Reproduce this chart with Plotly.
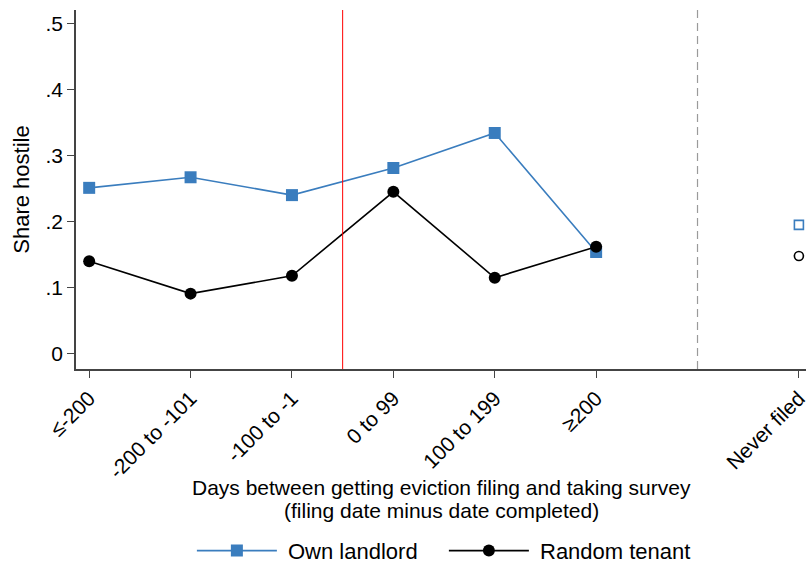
"""Share hostile by days between eviction filing and survey — Stata-style line plot."""
import plotly.graph_objects as go

# categories on the x axis (position 6 is left empty as a gap)
CATEGORIES = ["≤-200", "-200 to -101", "-100 to -1", "0 to 99", "100 to 199", "≥200"]
NEVER_LABEL = "Never filed"

# series values
OWN_LANDLORD = [0.251, 0.267, 0.240, 0.281, 0.334, 0.154]
RANDOM_TENANT = [0.140, 0.091, 0.118, 0.245, 0.115, 0.162]
OWN_NEVER = 0.195
RANDOM_NEVER = 0.148

Y_TICKS = [0, 0.1, 0.2, 0.3, 0.4, 0.5]
Y_TICK_TEXT = ["0", ".1", ".2", ".3", ".4", ".5"]

X_TITLE_LINES = [
    "Days between getting eviction filing and taking survey",
    "(filing date minus date completed)",
]

BLUE = "#3A7DBE"
FONT = "Liberation Sans, Arial, sans-serif"

xs = list(range(len(CATEGORIES)))
never_x = len(CATEGORIES) + 1

fig = go.Figure()

fig.add_trace(go.Scatter(
    x=xs, y=OWN_LANDLORD, mode="lines+markers", name="\u00a0Own landlord",
    line=dict(color=BLUE, width=1.6),
    marker=dict(symbol="square", size=12, color=BLUE),
    cliponaxis=False,
))
fig.add_trace(go.Scatter(
    x=xs, y=RANDOM_TENANT, mode="lines+markers", name="\u00a0Random tenant",
    line=dict(color="black", width=1.6),
    marker=dict(symbol="circle", size=12, color="black"),
    cliponaxis=False,
))
# hollow markers for the never-filed group
fig.add_trace(go.Scatter(
    x=[never_x], y=[OWN_NEVER], mode="markers", showlegend=False,
    marker=dict(symbol="square-open", size=9, color=BLUE, line=dict(width=1.6)),
    cliponaxis=False,
))
fig.add_trace(go.Scatter(
    x=[never_x], y=[RANDOM_NEVER], mode="markers", showlegend=False,
    marker=dict(symbol="circle-open", size=9, color="black", line=dict(width=1.6)),
    cliponaxis=False,
))

# red line between pre- and post-filing, dashed grey line before never filed
fig.add_vline(x=2.5, line_color="red", line_width=1)
fig.add_vline(x=len(CATEGORIES), line_dash="8px,5px", line_color="#9A9A9A", line_width=1.2)

# two-line x title, placed by hand for Stata-like line spacing
for text, ypos in zip(X_TITLE_LINES, [-0.331, -0.393]):
    fig.add_annotation(
        text=text, xref="paper", yref="paper", x=0.5, y=ypos,
        xanchor="center", yanchor="middle", showarrow=False,
        font=dict(size=21),
    )

fig.update_layout(
    width=810, height=569,
    plot_bgcolor="white", paper_bgcolor="white",
    margin=dict(l=76, r=4, t=10, b=200),
    font=dict(family=FONT, size=21, color="black"),
    xaxis=dict(
        range=[-0.13, never_x + 0.07],
        tickvals=xs + [never_x], ticktext=CATEGORIES + [NEVER_LABEL],
        tickangle=-45, ticks="outside", ticklen=7, tickcolor="#444",
        showline=True, linecolor="#444", linewidth=1.5,
        showgrid=False, zeroline=False, automargin=False,
    ),
    yaxis=dict(
        range=[-0.023, 0.52],
        tickvals=Y_TICKS, ticktext=Y_TICK_TEXT,
        ticks="outside", ticklen=7, tickcolor="#444",
        showline=True, linecolor="#444", linewidth=1.5,
        showgrid=False, zeroline=False, automargin=False,
        title=dict(text="Share hostile", font=dict(size=22), standoff=10),
    ),
    legend=dict(
        orientation="h", xref="container", yref="container",
        xanchor="center", x=0.548, yanchor="middle", y=0.032,
        font=dict(size=22), itemwidth=80,
        entrywidth=157, entrywidthmode="pixels",
    ),
)

# drop the default page margin so the figure sits at the window corner
fig.write_html(
    "out.html",
    config={"displayModeBar": False},
    post_script="document.body.style.margin='0';",
)
